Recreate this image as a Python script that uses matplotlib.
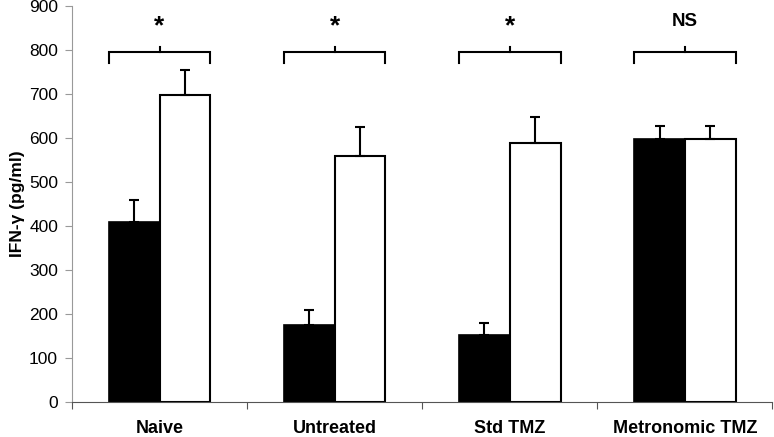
import matplotlib
matplotlib.use("Agg")
import matplotlib.pyplot as plt
import numpy as np

plt.rcParams['font.family'] = ['Liberation Sans', 'DejaVu Sans']

categories = ["Naive", "Untreated", "Std TMZ", "Metronomic TMZ"]
black_vals = [410, 175, 152, 598]
black_err = [48, 33, 28, 29]
white_vals = [697, 558, 589, 598]
white_err = [57, 67, 58, 29]
sig_labels = ["*", "*", "*", "NS"]

fig = plt.figure(figsize=(7.74, 4.37), dpi=100)
ax = fig.add_axes([0.093, 0.0808, 0.905, 0.905])

x = np.arange(len(categories))
w = 0.29
ax.bar(x - w/2, black_vals, w, color='black', edgecolor='black', linewidth=1.2, zorder=2)
ax.bar(x + w/2, white_vals, w, color='white', edgecolor='black', linewidth=1.5, zorder=2)
ax.errorbar(x - w/2, black_vals, yerr=[np.zeros(4), black_err], fmt='none',
            ecolor='black', elinewidth=1.5, capsize=3.3, capthick=1.5, zorder=3)
ax.errorbar(x + w/2, white_vals, yerr=[np.zeros(4), white_err], fmt='none',
            ecolor='black', elinewidth=1.5, capsize=3.3, capthick=1.5, zorder=3)

# significance brackets
for i, lab in enumerate(sig_labels):
    x0, x1 = i - w, i + w
    ax.plot([x0, x0, x1, x1], [770, 796, 796, 770], color='black', lw=1.5,
            solid_joinstyle='miter', clip_on=False)
    ax.plot([i, i], [796, 808], color='black', lw=1.5, clip_on=False)
    if lab == "*":
        ax.text(i, 854, lab, ha='center', va='center', fontsize=19, fontweight='bold')
    else:
        ax.text(i, 865, lab, ha='center', va='center', fontsize=13.5, fontweight='bold')

ax.set_xlim(-0.5, 3.5)
ax.set_ylim(0, 900)
ax.set_yticks(np.arange(0, 901, 100))
ax.set_yticklabels([str(v) for v in range(0, 901, 100)], fontsize=12.5)
ax.set_xticks(np.arange(-0.5, 3.6, 1.0))
ax.set_xticklabels([])
ax.set_xticks(x, minor=True)
ax.set_xticklabels(categories, minor=True, fontsize=13, fontweight='bold')
ax.tick_params(axis='x', which='minor', length=0, pad=13.5)
ax.tick_params(axis='x', which='major', length=5, color='#555555', direction='out')
ax.tick_params(axis='y', length=5, color='#999999', direction='out', pad=5)

ax.spines['top'].set_visible(False)
ax.spines['right'].set_visible(False)
ax.spines['left'].set_color('#999999')
ax.spines['bottom'].set_color('#555555')
ax.set_ylabel("IFN-γ (pg/ml)", fontsize=12.5, fontweight='bold', labelpad=3)

fig.savefig("out.png", dpi=100)
